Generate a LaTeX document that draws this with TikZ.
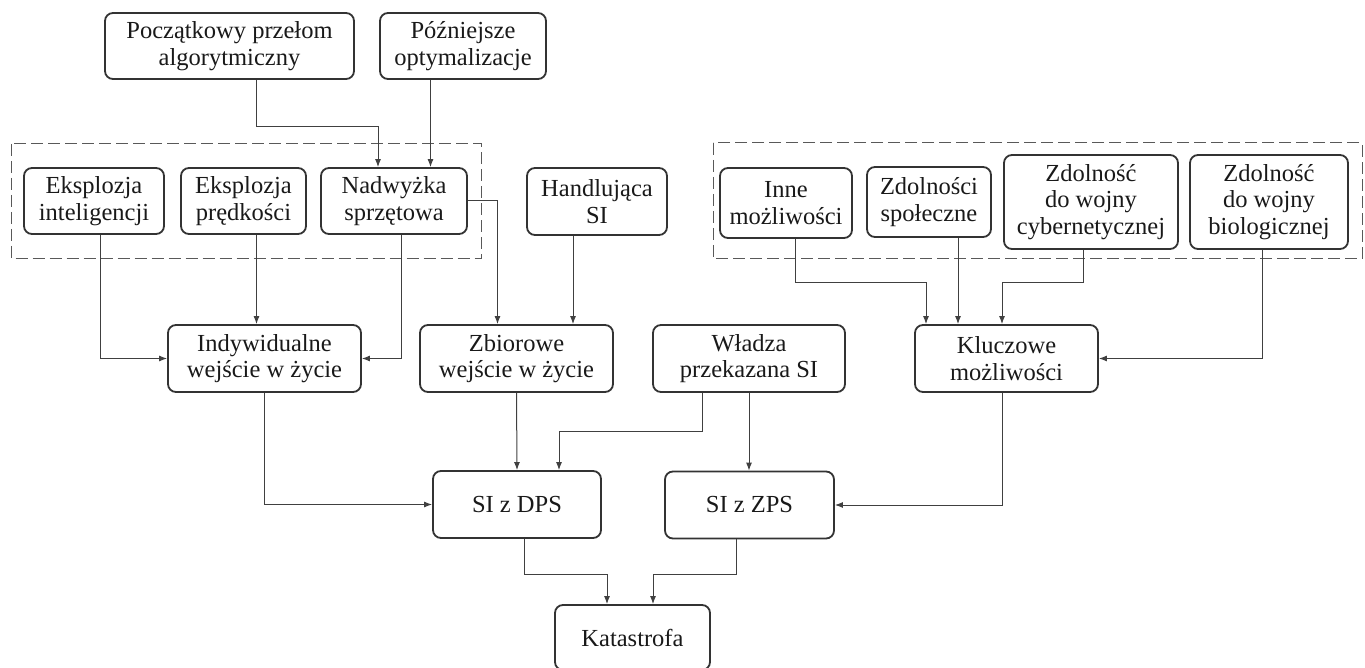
\documentclass[tikz,border=0pt]{standalone}
\usepackage{fontspec}
\setmainfont{Liberation Serif}
\usetikzlibrary{arrows.meta}

\begin{document}
\begin{tikzpicture}[x=0.5pt,y=-0.5pt,>={Latex[length=4pt,width=3pt]},
  box/.style={draw=black!80,line width=0.9pt,rounded corners=4pt,align=center,inner sep=0pt,
    font=\fontsize{12.25}{13.25}\selectfont,text=black!90,minimum height=33pt},
  link/.style={->,draw=black!75,line width=0.5pt},
  group/.style={draw=black!65,line width=0.5pt,dash pattern=on 6pt off 2.5pt}]
  \useasboundingbox (0,0) rectangle (1365,668);

  \node[box,minimum width=124.5pt] (przelom) at (229.5,46) {Początkowy przełom\\algorytmiczny};
  \node[box,minimum width=83pt] (optym) at (463,46) {Późniejsze\\optymalizacje};

  \draw[group] (11.5,144) rectangle (481.5,259);
  \node[box,minimum width=70pt] (intel) at (94,201) {Eksplozja\\inteligencji};
  \node[box,minimum width=62.5pt] (predk) at (243.5,201) {Eksplozja\\prędkości};
  \node[box,minimum width=73pt] (sprzet) at (394,201) {Nadwyżka\\sprzętowa};
  \node[box,minimum width=70pt,minimum height=33.5pt] (handel) at (597,201.5) {Handlująca\\SI};

  \draw[group] (713,143) rectangle (1362,259);
  \node[box,minimum width=66pt,minimum height=35pt] (inne) at (786,203) {Inne\\możliwości};
  \node[box,minimum width=62pt,minimum height=35pt] (spol) at (929,202) {Zdolności\\społeczne};
  \node[box,minimum width=87pt,minimum height=47pt] (cyber) at (1091,202) {Zdolność\\do wojny\\cybernetycznej};
  \node[box,minimum width=79pt,minimum height=47pt] (bio) at (1269,202) {Zdolność\\do wojny\\biologicznej};

  \node[box,minimum width=96.5pt,minimum height=33.5pt] (indyw) at (264.5,358.5) {Indywidualne\\wejście w życie};
  \node[box,minimum width=96.5pt,minimum height=33.5pt] (zbior) at (516.5,358.5) {Zbiorowe\\wejście w życie};
  \node[box,minimum width=96pt,minimum height=33.5pt] (wladza) at (749,358.5) {Władza\\przekazana SI};
  \node[box,minimum width=91.5pt,minimum height=33.5pt] (klucz) at (1006.5,358.5) {Kluczowe\\możliwości};

  \node[box,minimum width=84pt,minimum height=33.5pt] (dps) at (517,504.5) {SI z DPS};
  \node[box,minimum width=84.5pt,minimum height=33.5pt] (zps) at (749.5,505) {SI z ZPS};
  \node[box,minimum width=77.5pt,minimum height=32.5pt] (katastrofa) at (632.5,637.5) {Katastrofa};

  \draw[link] (przelom.south -| 256,0) -- (256,127) -| (sprzet.north -| 378,0);
  \draw[link] (optym.south -| 430.5,0) -- (sprzet.north -| 430.5,0);
  \draw[link] (sprzet.east) -| (zbior.north -| 497.5,0);
  \draw[link] (handel.south -| 573,0) -- (zbior.north -| 573,0);
  \draw[link] (intel.south -| 100.5,0) |- (indyw.west);
  \draw[link] (predk.south -| 256.5,0) -- (indyw.north -| 256.5,0);
  \draw[link] (sprzet.south -| 401.5,0) |- (indyw.east);

  \draw[link] (inne.south -| 795,0) -- (795,283) -| (klucz.north -| 926,0);
  \draw[link] (spol.south -| 958,0) -- (klucz.north -| 958,0);
  \draw[link] (cyber.south -| 1083,0) -- (1083,283) -| (klucz.north -| 1002,0);
  \draw[link] (bio.south -| 1262,0) |- (klucz.east);

  \draw[link] (indyw.south) |- (dps.west);
  \draw[link] (zbior.south) -- (dps.north);
  \draw[link] (wladza.south -| 702,0) -- (702,431) -| (dps.north -| 559,0);
  \draw[link] (wladza.south) -- (zps.north -| wladza.south);
  \draw[link] (klucz.south -| 1002.5,0) |- (zps.east);

  \draw[link] (dps.south -| 524,0) -- (524,574) -| (katastrofa.north -| 607,0);
  \draw[link] (zps.south -| 736,0) -- (736,574) -| (katastrofa.north -| 653,0);
\end{tikzpicture}
\end{document}
